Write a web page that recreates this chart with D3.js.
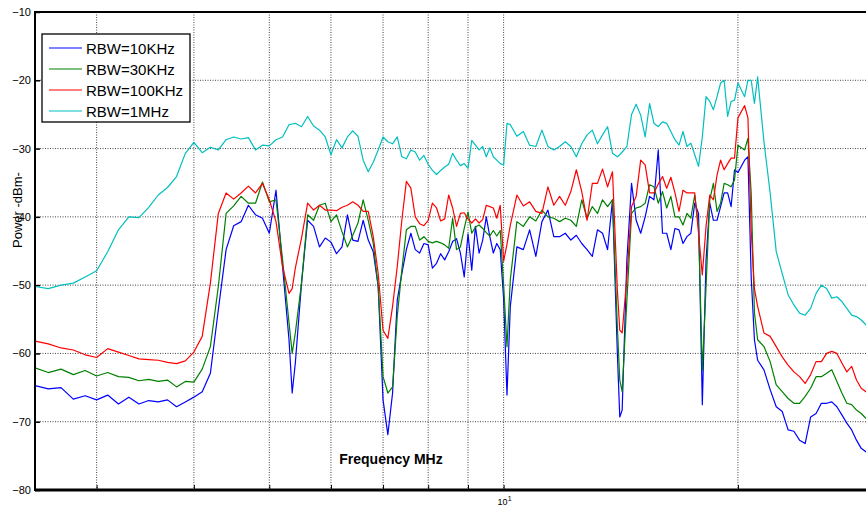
<!DOCTYPE html>
<html>
  <head>
    <meta charset="utf-8">
    <title>RBW spectrum</title>
    <script src="https://d3js.org/d3.v7.min.js"></script>
    <style>
      body { margin: 0; background: white; }
      text { font-family: "Liberation Sans", Arial, sans-serif; }
    </style>
  </head>
  <body>
    <script>
      // frequency samples in MHz (shared by every trace)
      let freq = [2.5,2.6,2.7,2.8,2.9,3.0,3.1,3.2,3.3,3.4,3.5,3.6,3.7,3.8,3.9,4.0,4.1,4.2,4.3,4.4,
        4.5,4.6,4.7,4.8,4.9,5.0,5.1,5.2,5.3,5.35,5.4,5.5,5.6,5.7,5.8,5.9,6.0,6.1,6.2,6.3,
        6.4,6.5,6.6,6.7,6.8,6.9,7.0,7.1,7.2,7.3,7.4,7.5,7.6,7.7,7.8,7.9,8.0,8.1,8.2,8.3,
        8.4,8.5,8.6,8.7,8.8,8.9,9.0,9.1,9.2,9.3,9.4,9.5,9.6,9.7,9.8,9.9,10.0,10.1,10.2,10.4,
        10.6,10.8,11.0,11.2,11.4,11.6,11.8,12.0,12.2,12.4,12.6,12.8,13.0,13.2,13.4,13.6,13.8,14.0,14.1,14.2,
        14.4,14.6,14.8,15.0,15.2,15.4,15.6,15.8,16.0,16.2,16.4,16.6,16.8,17.0,17.2,17.4,17.6,17.8,18.0,18.2,
        18.4,18.6,18.8,19.0,19.2,19.4,19.6,19.8,20.0,20.4,20.6,20.8,21.0,21.2,21.6,22.0,22.4,22.8,23.2,23.6,
        24.0,24.4,24.8,25.2,25.6,26.0,26.4,26.8,27.2,27.6,28.0,28.4,28.8,29.2,29.6,30.0]

      let rbw10k = [-64.7,-65.2,-65.0,-66.7,-66.2,-66.8,-66.1,-67.4,-66.4,-67.4,
        -66.9,-67.1,-66.8,-67.8,-67.1,-66.4,-65.6,-62.9,-53.6,-44.8,
        -41.3,-40.7,-38.3,-39.7,-40.2,-42.4,-36.1,-47.3,-58.0,-65.8,
        -61.4,-49.7,-40.5,-41.4,-44.4,-43.1,-43.7,-45.4,-44.4,-39.7,
        -43.4,-43.6,-40.5,-43.4,-45.1,-50.2,-66.8,-71.9,-65.8,-52.2,
        -48.3,-44.8,-42.4,-44.8,-45.3,-43.9,-44.1,-47.5,-46.8,-45.4,
        -46.3,-45.1,-43.6,-43.2,-45.3,-48.8,-42.5,-47.8,-41.4,-45.3,
        -43.4,-40.0,-42.9,-45.3,-43.9,-44.8,-52.0,-66.1,-53.1,-44.4,
        -44.8,-41.9,-45.8,-40.7,-39.0,-42.9,-42.9,-42.4,-43.4,-42.7,
        -43.9,-44.8,-45.8,-41.9,-42.4,-44.8,-37.5,-60.0,-69.3,-68.3,
        -46.3,-35.1,-40.5,-42.4,-40.0,-37.0,-37.5,-30.2,-42.4,-42.4,
        -44.8,-41.7,-41.9,-43.9,-42.9,-42.4,-38.0,-39.5,-67.5,-46.3,
        -38.0,-40.5,-40.5,-38.5,-36.5,-36.5,-38.5,-33.1,-33.5,-31.7,
        -31.2,-48.8,-58.0,-61.0,-62.4,-65.3,-67.8,-68.5,-71.2,-71.4,
        -72.7,-73.2,-69.3,-68.8,-67.3,-67.3,-67.1,-67.8,-69.0,-70.2,
        -71.2,-72.7,-73.9,-74.4,-74.8,-75.2]

      let rbw30k = [-62.1,-62.8,-62.3,-63.1,-62.5,-63.3,-62.8,-63.4,-63.5,-64.0,
        -63.8,-64.1,-63.9,-64.9,-64.1,-64.2,-62.3,-59.0,-50.2,-39.5,
        -38.4,-37.0,-38.0,-38.0,-34.9,-37.8,-37.5,-46.3,-55.5,-60.0,
        -57.0,-49.7,-39.7,-40.5,-38.3,-38.0,-40.7,-39.7,-42.2,-44.4,
        -42.7,-40.9,-37.5,-40.5,-43.9,-50.2,-63.4,-65.8,-64.9,-54.6,
        -47.8,-41.9,-41.4,-41.4,-43.4,-42.9,-43.6,-43.8,-43.6,-43.8,
        -44.1,-44.6,-40.2,-44.8,-44.4,-41.7,-39.3,-42.4,-41.5,-41.2,
        -41.7,-42.3,-42.8,-42.0,-42.8,-42.0,-50.0,-59.0,-49.2,-40.7,
        -41.4,-40.0,-40.6,-39.0,-40.0,-40.2,-40.7,-40.2,-40.5,-41.4,
        -37.5,-40.2,-38.5,-39.5,-37.5,-38.5,-37.5,-56.1,-63.9,-65.6,
        -52.2,-39.5,-38.7,-38.5,-38.0,-35.3,-35.6,-38.0,-36.3,-38.7,
        -37.0,-40.0,-40.0,-41.2,-39.5,-40.2,-36.8,-41.4,-62.5,-50.2,
        -37.5,-35.1,-39.2,-38.0,-35.1,-35.3,-35.6,-34.6,-29.5,-30.2,
        -28.5,-36.5,-54.0,-58.0,-59.0,-61.2,-64.6,-65.6,-66.6,-67.3,
        -67.3,-66.3,-65.1,-63.4,-63.4,-62.9,-62.4,-64.1,-65.8,-67.3,
        -67.5,-68.3,-68.8,-69.5,-69.9,-70.3]

      let rbw100k = [-58.2,-58.6,-59.2,-59.5,-60.2,-60.6,-59.3,-59.8,-60.3,-60.8,
        -60.9,-61.0,-61.3,-61.5,-61.1,-59.8,-57.5,-49.7,-39.5,-36.5,
        -37.4,-36.5,-35.5,-36.5,-35.1,-37.5,-40.7,-47.3,-51.2,-50.5,
        -47.5,-43.1,-38.0,-39.0,-38.3,-39.0,-39.0,-39.1,-38.6,-38.3,
        -37.8,-38.3,-39.2,-39.2,-42.9,-48.3,-56.6,-57.8,-53.1,-47.3,
        -40.5,-34.8,-35.8,-40.0,-41.0,-41.3,-40.5,-38.0,-38.7,-40.6,
        -40.3,-36.8,-38.7,-41.4,-39.5,-39.4,-40.3,-40.9,-40.3,-40.9,
        -40.4,-38.3,-38.5,-38.7,-40.2,-38.3,-46.5,-44.0,-41.2,-36.8,
        -38.4,-37.8,-39.2,-39.5,-35.6,-38.3,-37.0,-38.3,-36.3,-33.1,
        -36.3,-40.5,-35.1,-35.1,-33.0,-35.6,-33.4,-50.7,-56.6,-57.0,
        -48.8,-38.5,-37.0,-31.7,-32.4,-36.5,-36.5,-35.2,-34.1,-35.8,
        -34.2,-36.5,-39.2,-36.1,-36.5,-36.5,-36.5,-42.4,-48.5,-41.4,
        -36.8,-37.5,-33.9,-31.7,-33.1,-32.2,-31.4,-31.4,-25.5,-23.7,
        -25.5,-42.0,-50.5,-53.1,-57.0,-57.5,-59.0,-60.5,-61.7,-62.7,
        -63.4,-64.4,-63.1,-61.2,-61.2,-60.0,-59.7,-60.0,-61.4,-62.7,
        -61.9,-63.9,-65.1,-65.6,-66.0,-66.3]

      let rbw1m = [-50.2,-50.5,-50.0,-49.7,-48.8,-47.9,-45.1,-41.9,-40.0,-40.1,
        -38.6,-36.8,-35.7,-34.1,-30.7,-29.1,-30.6,-29.8,-30.2,-28.7,
        -28.3,-28.6,-28.4,-30.2,-29.5,-29.6,-28.7,-28.3,-26.5,-26.4,
        -26.3,-26.8,-25.3,-26.7,-27.3,-28.3,-30.9,-28.7,-29.9,-28.3,
        -27.4,-28.2,-31.7,-33.4,-32.0,-30.2,-28.3,-29.0,-29.3,-28.3,
        -31.2,-31.5,-30.2,-30.5,-31.7,-31.0,-32.3,-33.2,-33.8,-33.2,
        -32.7,-32.3,-30.7,-31.7,-32.5,-32.2,-32.9,-28.8,-29.5,-30.2,
        -29.7,-31.2,-29.9,-31.2,-31.7,-32.2,-32.4,-26.3,-26.5,-28.2,
        -27.5,-29.5,-29.7,-27.3,-29.7,-30.2,-29.7,-29.0,-29.7,-31.2,
        -29.3,-28.0,-27.3,-29.3,-28.0,-26.8,-30.7,-31.2,-30.9,-30.5,
        -29.7,-25.0,-23.5,-25.1,-28.3,-23.4,-26.3,-26.8,-26.1,-26.3,
        -27.5,-28.7,-29.5,-27.5,-29.7,-29.2,-30.9,-32.6,-28.3,-22.4,
        -23.1,-24.3,-22.4,-20.4,-20.0,-25.3,-23.1,-22.9,-20.4,-22.4,
        -20.0,-20.0,-23.4,-19.5,-29.0,-36.5,-45.1,-48.3,-51.4,-52.9,
        -54.1,-54.4,-53.4,-51.2,-50.0,-50.5,-51.9,-51.7,-52.4,-53.4,
        -54.4,-54.6,-55.1,-55.8,-56.0,-56.3]

      let names = ['RBW=10KHz', 'RBW=30KHz', 'RBW=100KHz', 'RBW=1MHz']
      let colors = ['#0000ff', '#008000', '#ff0000', '#00bfbf']
      let yTicks = [-80, -70, -60, -50, -40, -30, -20, -10]
      let xTicks = [3, 4, 5, 6, 7, 8, 9, 10, 20]

      let width = 866, height = 507
      let plotLeft = 35, plotRight = 875, plotTop = 12, plotBottom = 490

      let svg = d3.select('body').append('svg')
                  .attr('width', width)
                  .attr('height', height)
                  .style('background-color', 'white')

      let xScale = d3.scaleLog().domain([2.5, 30]).range([plotLeft, plotRight])
      let yScale = d3.scaleLinear().domain([-80, -10]).range([plotBottom, plotTop])

      svg.append('clipPath').attr('id', 'plot-area')
         .append('rect')
         .attr('x', plotLeft).attr('y', plotTop)
         .attr('width', plotRight - plotLeft).attr('height', plotBottom - plotTop)

      // dotted grid
      let grid = svg.append('g')
      grid.selectAll('line.vx').data(xTicks).enter().append('line')
          .attr('class', 'vx')
          .attr('x1', d => xScale(d)).attr('x2', d => xScale(d))
          .attr('y1', plotTop).attr('y2', plotBottom)
      grid.selectAll('line.hy').data(yTicks.slice(1, -1)).enter().append('line')
          .attr('class', 'hy')
          .attr('x1', plotLeft).attr('x2', width)
          .attr('y1', d => yScale(d)).attr('y2', d => yScale(d))
      grid.selectAll('line')
          .attr('stroke', '#444')
          .attr('stroke-width', 1)
          .attr('stroke-dasharray', '1,1.5')

      // axes
      let yAxis = d3.axisLeft(yScale).tickValues(yTicks).tickSize(-5).tickSizeOuter(0).tickPadding(4)
      let gy = svg.append('g').attr('transform', `translate(${plotLeft},0)`).call(yAxis)
      gy.select('.domain').remove()
      gy.selectAll('.tick line').attr('stroke', '#000').attr('stroke-width', 1.5)
      gy.selectAll('.tick text').attr('font-size', 11).attr('fill', '#000')
        .style('font-family', '"Liberation Sans", Arial, sans-serif')

      let xAxis = d3.axisBottom(xScale).tickValues(xTicks).tickSize(-5).tickSizeOuter(0).tickFormat(() => '')
      let gx = svg.append('g').attr('transform', `translate(0,${plotBottom})`).call(xAxis)
      gx.select('.domain').remove()
      gx.selectAll('.tick line').attr('stroke', '#000').attr('stroke-width', 1)

      let ten = svg.append('text')
                   .attr('x', xScale(10) - 6).attr('y', 505)
                   .attr('font-size', 9)
      ten.append('tspan').text('10')
      ten.append('tspan').attr('font-size', 7).attr('dy', -4).text('1')

      // traces
      let line = d3.line()
                   .x((d, i) => xScale(freq[i]))
                   .y(d => yScale(d))

      let series = [rbw10k, rbw30k, rbw100k, rbw1m]
      svg.append('g').attr('clip-path', 'url(#plot-area)')
         .selectAll('path').data(series).enter().append('path')
         .attr('d', d => line(d))
         .attr('fill', 'none')
         .attr('stroke', (d, i) => colors[i])
         .attr('stroke-width', 1.2)
         .attr('stroke-linejoin', 'round')

      // frame
      svg.append('line').attr('x1', plotLeft).attr('x2', width).attr('y1', plotTop).attr('y2', plotTop)
         .attr('stroke', '#000').attr('stroke-width', 2)
      svg.append('line').attr('x1', plotLeft).attr('x2', plotLeft).attr('y1', plotTop - 1).attr('y2', plotBottom + 1)
         .attr('stroke', '#000').attr('stroke-width', 2)
      svg.append('line').attr('x1', plotLeft).attr('x2', width).attr('y1', plotBottom).attr('y2', plotBottom)
         .attr('stroke', '#000').attr('stroke-width', 3)

      // labels
      svg.append('text')
         .attr('x', 391).attr('y', 464)
         .attr('text-anchor', 'middle')
         .attr('font-size', 14).attr('font-weight', 'bold')
         .text('Frequency MHz')

      svg.append('text')
         .attr('transform', 'translate(22,210) rotate(-90)')
         .attr('text-anchor', 'middle')
         .attr('font-size', 13)
         .text('Power -dBm-')

      // legend
      let legend = svg.append('g')
      legend.append('rect')
            .attr('x', 42).attr('y', 34).attr('width', 148).attr('height', 88)
            .attr('fill', 'white').attr('stroke', '#000').attr('stroke-width', 1.3)
      let rows = legend.selectAll('g.row').data(names).enter().append('g')
                       .attr('class', 'row')
                       .attr('transform', (d, i) => `translate(0,${48 + i * 21})`)
      rows.append('line')
          .attr('x1', 49).attr('x2', 82).attr('y1', 0).attr('y2', 0)
          .attr('stroke', (d, i) => colors[i]).attr('stroke-width', 1.2)
      rows.append('text')
          .attr('x', 86).attr('y', 5.5)
          .attr('font-size', 15)
          .text(d => d)
    </script>
  </body>
</html>
